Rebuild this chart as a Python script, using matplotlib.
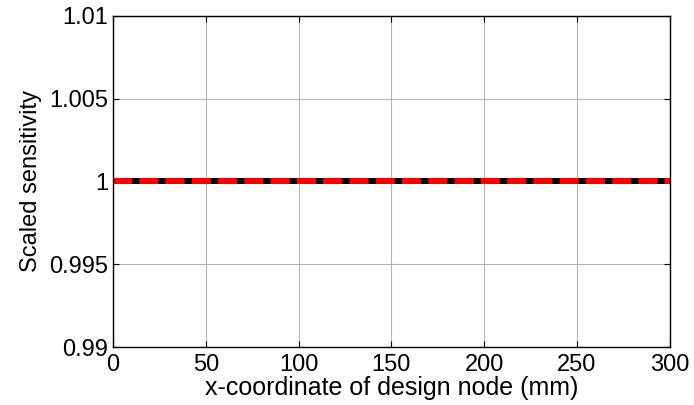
import matplotlib
matplotlib.use('Agg')
import matplotlib.pyplot as plt

plt.rcParams['font.family'] = ['Liberation Sans', 'DejaVu Sans']
plt.rcParams['font.size'] = 17

# design node x-coordinates (mm) and scaled sensitivities
x_nodes = [0, 25, 50, 75, 100, 125, 150, 175, 200, 225, 250, 275, 300]
sens_analytic = [1, 1, 1, 1, 1, 1, 1, 1, 1, 1, 1, 1, 1]
sens_fd = [1, 1, 1, 1, 1, 1, 1, 1, 1, 1, 1, 1, 1]

xticks = [0, 50, 100, 150, 200, 250, 300]
yticks = [0.99, 0.995, 1.0, 1.005, 1.01]
yticklabels = ['0.99', '0.995', '1', '1.005', '1.01']

fig = plt.figure(figsize=(6.94, 4.05), dpi=100)
ax = fig.add_axes([0.163, 0.143, 0.802, 0.818])

ax.plot(x_nodes, sens_analytic, color='black', lw=4.3, solid_capstyle='butt')
ax.plot(x_nodes, sens_fd, color='red', lw=4.3, linestyle=(0, (3.2, 1.2)),
        dash_capstyle='butt')

ax.set_xlim(0, 300)
ax.set_ylim(0.99, 1.01)
ax.set_xticks(xticks)
ax.set_yticks(yticks)
ax.set_yticklabels(yticklabels)
ax.grid(True, color='#b4b4b4', lw=0.8, linestyle='-')
ax.tick_params(direction='in', top=True, right=True, length=4, width=0.8)
ax.tick_params(axis='x', pad=5)
ax.tick_params(axis='y', pad=3.5)
for sp in ax.spines.values():
    sp.set_linewidth(1.0)

ax.set_xlabel('x-coordinate of design node (mm)', fontsize=18, labelpad=0)
ax.set_ylabel('Scaled sensitivity', labelpad=5)

fig.savefig('out.png', dpi=100)
